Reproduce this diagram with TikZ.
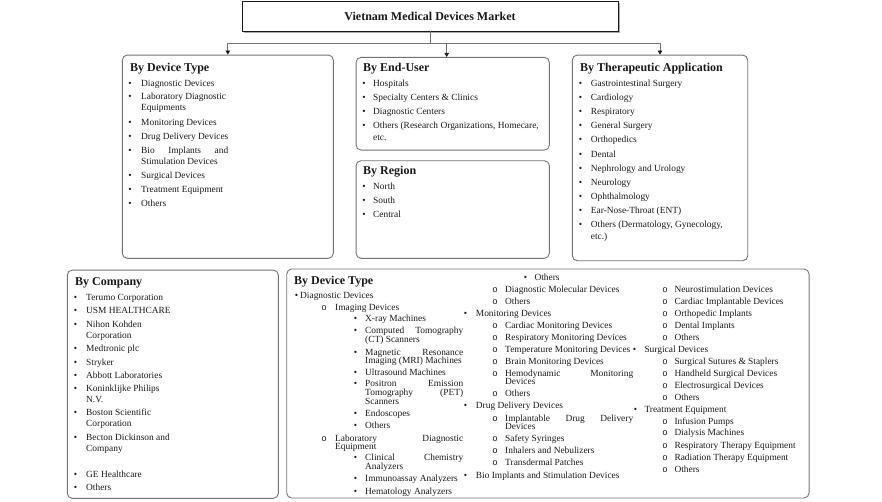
\documentclass[tikz,border=0pt]{standalone}
\usepackage{fontspec}
\setmainfont{Liberation Serif}
\newfontfamily\monofont{Liberation Mono}
\usetikzlibrary{arrows.meta,calc}
\definecolor{boxgray}{RGB}{115,115,115}
\definecolor{ink}{RGB}{25,25,25}
\newcounter{tl}
\newcommand\itf{\fontsize{9.4}{11}\selectfont}
\tikzset{
  txt/.style={anchor=base west,inner sep=0pt,font=\itf,text=ink},
  bul/.style={anchor=base,inner sep=0pt,font=\itf,text=ink},
  hd/.style={anchor=base west,inner sep=0pt,font=\fontsize{12}{14}\selectfont\bfseries,text=ink},
  box/.style={draw=boxgray,line width=0.9pt,rounded corners=5pt,inner sep=0pt},
  titlebox/.style={draw=ink,fill=white,line width=0.8pt,inner sep=0pt,font=\fontsize{12}{14}\selectfont\bfseries,text=ink},
  shadowbox/.style={draw=boxgray!60,line width=1.2pt},
  conn/.style={draw=boxgray,line width=0.7pt},
  arr/.style={conn,-{Triangle[length=4pt,width=4.5pt,color=ink]}},
}
\newcommand\Tx[3]{\stepcounter{tl}\node[txt] (t\arabic{tl}) at (#1,{#2+3.2}) {#3};}
\newcommand\Bu[2]{\stepcounter{tl}\node[bul] (t\arabic{tl}) at (#1,{#2+3.2}) {•};}
\newcommand\Ci[2]{\stepcounter{tl}\node[bul] (t\arabic{tl}) at (#1,{#2+3.2}) {\monofont\fontsize{9}{10}\selectfont o};}
\newcommand\ItA[4]{\Bu{#1}{#3}\Tx{#2}{#3}{#4}}
\newcommand\ItB[4]{\Ci{#1}{#3}\Tx{#2}{#3}{#4}}
\newcommand\Hd[3]{\stepcounter{tl}\node[hd] (t\arabic{tl}) at (#1,{#2+4.2}) {#3};}
\newcommand\J[2]{\hbox to #1pt{#2}}
\begin{document}
\begin{tikzpicture}[x=1pt,y=-1pt]
\useasboundingbox (0,0) rectangle (882,501);
% title shadow and boxes
\draw[shadowbox] (619.5,2.5) -- (619.5,32.2) -- (243.5,32.2);
\node[titlebox,minimum width=376pt,minimum height=30pt] (title) at (430,16) {Vietnam Medical Devices Market};
\node[box,minimum width=211pt,minimum height=203.3pt] (dev) at (227.8,156.7) {};
\node[box,minimum width=193.3pt,minimum height=92.7pt] (eu) at (452.7,103.7) {};
\node[box,minimum width=193.3pt,minimum height=97.6pt] (reg) at (452.7,209.5) {};
\node[box,minimum width=175.4pt,minimum height=205.7pt] (ther) at (660,157.9) {};
\node[box,minimum width=211pt,minimum height=228.3pt] (comp) at (172.8,384.2) {};
\node[box,minimum width=522.3pt,minimum height=229pt] (big) at (547.9,383.5) {};
% connectors
\coordinate (j) at (430,43);
\coordinate (ea) at ($(eu.north)+(-6,0)$);
\draw[conn] (title.south) -- (j);
\draw[arr] (j) -| (dev.north);
\draw[arr] (j) -| (ther.north);
\draw[arr] (j -| ea) -- (ea);
% By Device Type
\Hd{130}{67}{By Device Type}
\ItA{130}{141}{83}{Diagnostic Devices}
\ItA{130}{141}{96}{Laboratory Diagnostic}
\Tx{141}{107}{Equipments}
\ItA{130}{141}{122}{Monitoring Devices}
\ItA{130}{141}{136}{Drug Delivery Devices}
\ItA{130}{141}{150}{\J{87}{Bio\hfill Implants\hfill and}}
\Tx{141}{161}{Stimulation Devices}
\ItA{130}{141}{175}{Surgical Devices}
\ItA{130}{141}{189}{Treatment Equipment}
\ItA{130}{141}{203}{Others}
% By End-User
\Hd{363}{67.7}{By End-User}
\ItA{364}{373}{83.7}{Hospitals}
\ItA{364}{373}{97.3}{Specialty Centers \& Clinics}
\ItA{364}{373}{111.7}{Diagnostic Centers}
\ItA{364}{373}{125.7}{Others (Research Organizations, Homecare,}
\Tx{373}{137}{etc.}
% By Region
\Hd{363}{170.7}{By Region}
\ItA{364}{373}{186.7}{North}
\ItA{364}{373}{200.7}{South}
\ItA{364}{373}{214.7}{Central}
% By Therapeutic Application
\Hd{580}{67}{By Therapeutic Application}
\ItA{580.5}{590.7}{83}{Gastrointestinal Surgery}
\ItA{580.5}{590.7}{97}{Cardiology}
\ItA{580.5}{590.7}{111}{Respiratory}
\ItA{580.5}{590.7}{125.7}{General Surgery}
\ItA{580.5}{590.7}{139.7}{Orthopedics}
\ItA{580.5}{590.7}{154}{Dental}
\ItA{580.5}{590.7}{168}{Nephrology and Urology}
\ItA{580.5}{590.7}{182}{Neurology}
\ItA{580.5}{590.7}{196}{Ophthalmology}
\ItA{580.5}{590.7}{210}{Ear-Nose-Throat (ENT)}
\ItA{580.5}{590.7}{224.7}{Others (Dermatology, Gynecology,}
\Tx{590.7}{236}{etc.)}
% By Company
\Hd{75}{281.7}{By Company}
\ItA{75.5}{86}{297.7}{Terumo Corporation}
\ItA{75.5}{86}{310.7}{USM HEALTHCARE}
\ItA{75.5}{86}{324}{Nihon Kohden}
\Tx{86}{335}{Corporation}
\ItA{75.5}{86}{348}{Medtronic plc}
\ItA{75.5}{86}{362}{Stryker}
\ItA{75.5}{86}{375}{Abbott Laboratories}
\ItA{75.5}{86}{388}{Koninklijke Philips}
\Tx{86}{399}{N.V.}
\ItA{75.5}{86}{412}{Boston Scientific}
\Tx{86}{423}{Corporation}
\ItA{75.5}{86}{437}{Becton Dickinson and}
\Tx{86}{448}{Company}
\ItA{75.5}{86}{474}{GE Healthcare}
\ItA{75.5}{86}{487.7}{Others}
% Big box: By Device Type
\Hd{294}{280.7}{By Device Type}
\ItA{296.5}{300}{295}{Diagnostic Devices}
\ItB{324}{335}{307}{Imaging Devices}
\ItA{355.5}{365}{318.3}{X-ray Machines}
\ItA{355.5}{365}{330.3}{\J{98}{Computed\hfill Tomography}}
\Tx{365}{339.3}{(CT) Scanners}
\ItA{355.5}{365}{352}{\J{98}{Magnetic\hfill Resonance}}
\Tx{365}{360.7}{Imaging (MRI) Machines}
\ItA{355.5}{365}{372}{Ultrasound Machines}
\ItA{355.5}{365}{383.3}{\J{98}{Positron\hfill Emission}}
\Tx{365}{392.6}{\J{98}{Tomography\hfill (PET)}}
\Tx{365}{401.7}{Scanners}
\ItA{355.5}{365}{413.3}{Endoscopes}
\ItA{355.5}{365}{425.7}{Others}
\ItB{324}{335}{438.3}{\J{128}{Laboratory\hfill Diagnostic}}
\Tx{335}{446.7}{Equipment}
\ItA{355.5}{365}{457.7}{\J{98}{Clinical\hfill Chemistry}}
\Tx{365}{466.3}{Analyzers}
\ItA{355.5}{365}{478.3}{Immunoassay Analyzers}
\ItA{355.5}{365}{491}{Hematology Analyzers}
% column 2
\ItA{525.5}{534.3}{277.7}{Others}
\ItB{495}{505}{289.7}{Diagnostic Molecular Devices}
\ItB{495}{505}{301}{Others}
\ItA{465.5}{475.7}{313.3}{Monitoring Devices}
\ItB{495}{505}{325.7}{Cardiac Monitoring Devices}
\ItB{495}{505}{337.3}{Respiratory Monitoring Devices}
\ItB{495}{505}{349.7}{Temperature Monitoring Devices}
\ItB{495}{505}{361.7}{Brain Monitoring Devices}
\ItB{495}{505}{373}{\J{128}{Hemodynamic\hfill Monitoring}}
\Tx{505}{381.7}{Devices}
\ItB{495}{505}{393.7}{Others}
\ItA{465.5}{475.7}{405.7}{Drug Delivery Devices}
\ItB{495}{505}{418.3}{\J{128}{Implantable\hfill Drug\hfill Delivery}}
\Tx{505}{426.7}{Devices}
\ItB{495}{505}{438.7}{Safety Syringes}
\ItB{495}{505}{450.3}{Inhalers and Nebulizers}
\ItB{495}{505}{462.3}{Transdermal Patches}
\ItA{465.5}{475.7}{475}{Bio Implants and Stimulation Devices}
% column 3
\ItB{665}{674.3}{289.7}{Neurostimulation Devices}
\ItB{665}{674.3}{301}{Cardiac Implantable Devices}
\ItB{665}{674.3}{313.7}{Orthopedic Implants}
\ItB{665}{674.3}{325.7}{Dental Implants}
\ItB{665}{674.3}{337}{Others}
\ItA{634.5}{644.3}{349}{Surgical Devices}
\ItB{665}{674.3}{361.7}{Surgical Sutures \& Staplers}
\ItB{665}{674.3}{373.3}{Handheld Surgical Devices}
\ItB{665}{674.3}{385}{Electrosurgical Devices}
\ItB{665}{674.3}{397.3}{Others}
\ItA{635.5}{644.3}{409}{Treatment Equipment}
\ItB{665}{674.3}{421}{Infusion Pumps}
\ItB{665}{674.3}{432.3}{Dialysis Machines}
\ItB{665}{674.3}{445}{Respiratory Therapy Equipment}
\ItB{665}{674.3}{457.3}{Radiation Therapy Equipment}
\ItB{665}{674.3}{469}{Others}
\end{tikzpicture}
\end{document}
